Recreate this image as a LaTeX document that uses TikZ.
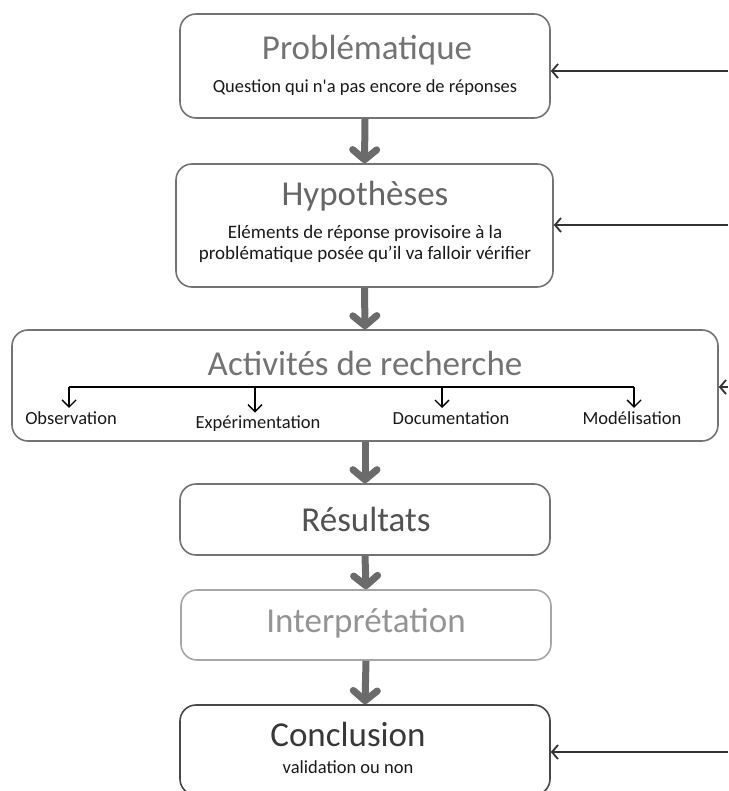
\documentclass[tikz,border=0pt]{standalone}
\usepackage{fontspec}
\setmainfont{Carlito}
\usetikzlibrary{arrows.meta}

\tikzset{
  stage/.style={draw=black!55, line width=1.6pt, rounded corners=16pt, minimum width=370pt},
  title/.style={font=\fontsize{35}{39}\selectfont, text=black!55},
  sub/.style={font=\fontsize{19}{22}\selectfont, text=black!90},
  step arrow/.style={draw=black!58, line width=7pt, -{Straight Barb[length=10pt, width=24pt, round]}},
  back arrow/.style={draw=black!80, line width=1.8pt, -{Straight Barb[length=6pt, width=14pt]}},
  act arrow/.style={draw=black, line width=1.4pt, -{Straight Barb[length=7pt, width=14pt]}},
}

\begin{document}
\begin{tikzpicture}[x=1pt, y=-1pt]
        \useasboundingbox (0,0) rectangle (728,791);

        % boxes
        \node[stage, minimum height=104pt] (prob) at (365,66) {};
        \node[stage, minimum width=377pt, minimum height=123pt] (hyp) at (364.5,225.5) {};
        \node[stage, minimum width=706pt, minimum height=111pt] (act) at (365,385.5) {};
        \node[stage, minimum height=71pt] (res) at (365,519.5) {};
        \node[stage, draw=black!35, minimum height=70pt] (inter) at (366,625) {};
        \node[stage, draw=black!72, minimum height=90pt] (concl) at (365,750) {};

        % texts
        \node[title] (probT) at (367,50) {Problématique};
        \node[sub, font=\fontsize{18.5}{22}\selectfont] (probS) at (365,88) {Question qui n\textquotesingle a pas encore de réponses};
        \node[title, text=black!60] (hypT) at (365,196) {Hypothèses};
        \node[sub] (hypS1) at (365,233) {Eléments de réponse provisoire à la};
        \node[sub] (hypS2) at (365,254) {problématique posée qu’il va falloir vérifier};
        \node[title] (actT) at (365,363) {Activités de recherche};
        \node[title, text=black!68] (resT) at (366,519) {Résultats};
        \node[title, text=black!42] (interT) at (366,623) {Interprétation};
        \node[title, text=black!78] (conclT) at (348,734) {Conclusion};
        \node[sub, font=\fontsize{18.5}{22}\selectfont] (conclS) at (348,767) {validation ou non};

        % activities
        \node[sub, font=\fontsize{18.5}{22}\selectfont] (obs) at (71,418) {Observation};
        \node[sub, font=\fontsize{18.5}{22}\selectfont] (expe) at (258,424) {Expérimentation};
        \node[sub, font=\fontsize{18.5}{22}\selectfont] (doc) at (451,418) {Documentation};
        \node[sub, font=\fontsize{18.5}{22}\selectfont] (model) at (632,418) {Modélisation};
        \coordinate (b1) at (69,387);
        \coordinate (b2) at (255,387);
        \coordinate (b3) at (442,387);
        \coordinate (b4) at (634,387);
        \draw[draw=black, line width=1.4pt] (b1) -- (b4);
        \draw[act arrow] (b1) -- (b1 |- obs.north);
        \draw[act arrow] (b2) -- (b2 |- expe.north);
        \draw[act arrow] (b3) -- (b3 |- doc.north);
        \draw[act arrow] (b4) -- (b4 |- model.north);

        % main flow
        \draw[step arrow] (prob.south) -- (hyp.north);
        \draw[step arrow] (hyp.south) -- (act.north);
        \draw[step arrow] (act.south) -- (res.north);
        \draw[step arrow] (res.south) -- (inter.north);
        \draw[step arrow] (inter.south) -- (concl.north);

        % feedback from the right
        \coordinate (inP) at (728,71);
        \coordinate (inH) at (728,225);
        \coordinate (inA) at (728,387);
        \coordinate (inC) at (728,752);
        \draw[back arrow] (inP) -- (prob.east |- inP);
        \draw[back arrow] (inH) -- (hyp.east |- inH);
        \draw[back arrow] (inA) -- (act.east |- inA);
        \draw[back arrow] (inC) -- (concl.east |- inC);

\end{tikzpicture}
\end{document}
